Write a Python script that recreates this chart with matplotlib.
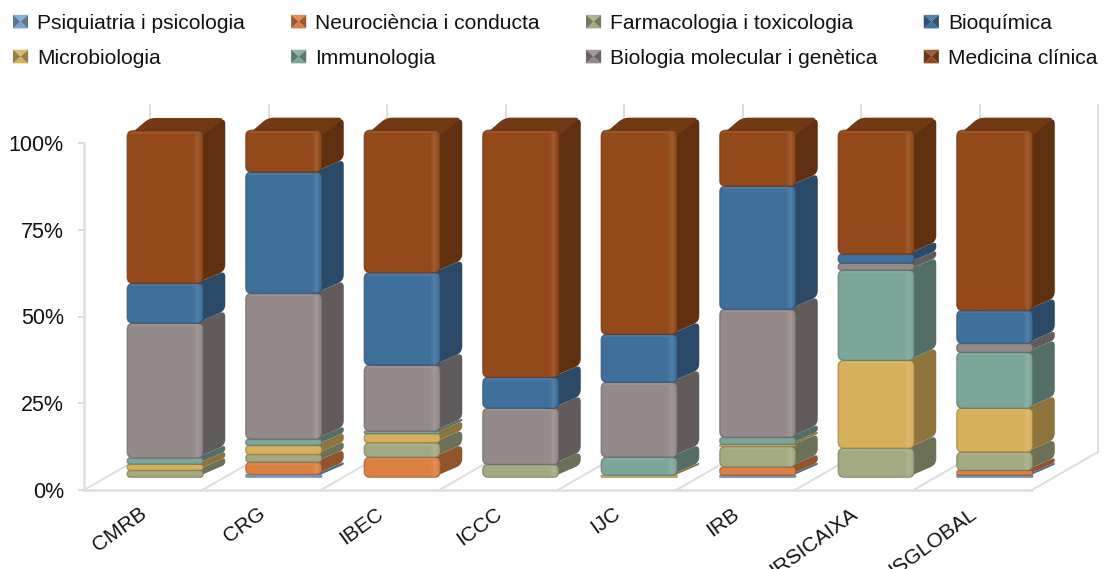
import numpy as np
import matplotlib
matplotlib.use("Agg")
import matplotlib.pyplot as plt
from matplotlib.path import Path
from matplotlib.patches import PathPatch, Patch, Polygon
from matplotlib.legend_handler import HandlerBase
from matplotlib.ticker import FuncFormatter

categories = ["CMRB", "CRG", "IBEC", "ICCC", "IJC", "IRB", "IRSICAIXA", "ISGLOBAL"]
psiquiatria = [0, 0.8, 0, 0, 0, 0.6, 0, 0.6]
neurociencia = [0, 3.6, 5.8, 0, 0, 2.4, 0, 1.4]
farmacologia = [2, 2.2, 4.2, 3.7, 0, 5.9, 8.4, 5.3]
microbiologia = [1.8, 2.6, 2.6, 0, 0.6, 0.6, 25.3, 12.6]
immunologia = [1.8, 1.8, 0.7, 0, 5.2, 2, 26, 16.1]
biologia = [38.8, 42, 19, 16.2, 21.6, 36.9, 2, 2.6]
bioquimica = [11.5, 35, 26.7, 8.9, 13.8, 35.5, 2.6, 9.5]
medicina = [44, 12, 41, 71.2, 58.8, 16.1, 35.7, 51.9]
series_values = {"Psiquiatria i psicologia": psiquiatria, "Neurociència i conducta": neurociencia,
                 "Farmacologia i toxicologia": farmacologia, "Microbiologia": microbiologia,
                 "Immunologia": immunologia, "Biologia molecular i genètica": biologia,
                 "Bioquímica": bioquimica, "Medicina clínica": medicina}
stack_order = ["Psiquiatria i psicologia", "Neurociència i conducta", "Farmacologia i toxicologia", "Microbiologia",
               "Immunologia", "Biologia molecular i genètica", "Bioquímica", "Medicina clínica"]
colors = {"Psiquiatria i psicologia": "#7ba4cc", "Neurociència i conducta": "#dc7f43",
          "Farmacologia i toxicologia": "#a3aa82", "Microbiologia": "#d7b05b",
          "Immunologia": "#7ca69a", "Biologia molecular i genètica": "#958a8a",
          "Bioquímica": "#3f709c", "Medicina clínica": "#934919"}

W, H = 1107, 569
plt.rcParams["font.family"] = ["Liberation Sans", "DejaVu Sans"]
fig = plt.figure(figsize=(W / 100, H / 100), dpi=100)
L, R, T, B = 84, 1032, 143, 490
ax = fig.add_axes([L / W, 1 - B / H, (R - L) / W, (B - T) / H])
ax.set_xlim(-0.5, 7.5)
ax.set_ylim(0, 100)
ax.patch.set_visible(False)
for s in ax.spines.values():
    s.set_visible(False)

GRID = "#dddddd"
px_x = (R - L) / 8
px_y = (B - T) / 100
DX, DY = 66 / px_x, 38 / px_y           # full floor depth
FRONT, BACK = 1 / 3, 2 / 3               # bar depth range
BAR_W = 76 / px_x


def proj(x, y, d):
    return x + d * DX, y + d * DY


def rounded(points, r):
    """Closed path through data-space points with corners rounded by r pixels."""
    pts = ax.transData.transform(np.asarray(points, float))
    n = len(pts)
    verts, codes = [], []
    for i in range(n):
        p, a, b = pts[i], pts[i - 1], pts[(i + 1) % n]
        la, lb = np.linalg.norm(a - p), np.linalg.norm(b - p)
        ra = min(r, la / 2) if la > 0 else 0
        rb = min(r, lb / 2) if lb > 0 else 0
        p1 = p + (a - p) / la * ra if la > 0 else p
        p2 = p + (b - p) / lb * rb if lb > 0 else p
        verts += [p1, p, p2]
        codes += [Path.MOVETO if i == 0 else Path.LINETO, Path.CURVE3, Path.CURVE3]
    verts.append(verts[0])
    codes.append(Path.CLOSEPOLY)
    return Path(ax.transData.inverted().transform(np.array(verts)), codes)


def shade(c, f):
    rgb = np.array(matplotlib.colors.to_rgb(c))
    return tuple(rgb * f) if f <= 1 else tuple(rgb + (1 - rgb) * (f - 1))


class BevelHandler(HandlerBase):
    def create_artists(self, legend, orig, xd, yd, w, h, fontsize, trans):
        c = orig.get_facecolor()
        x0, y0, x1, y1 = -xd, -yd, -xd + w, -yd + h
        cx, cy = (x0 + x1) / 2, (y0 + y1) / 2
        faces = [([(x0, y1), (x1, y1), (cx, cy)], 1.12), ([(x0, y0), (x1, y0), (cx, cy)], 1.0),
                 ([(x0, y0), (x0, y1), (cx, cy)], 0.72), ([(x1, y0), (x1, y1), (cx, cy)], 0.72)]
        return [Polygon(p, closed=True, fc=shade(c[:3], f), ec="none", transform=trans) for p, f in faces]


# floor, walls and axis
for k in range(9):
    xk = -0.5 + k
    x2, y2 = proj(xk, 0, 1)
    ax.plot([xk, x2], [0, y2], color=GRID, lw=1.4, clip_on=False, zorder=1)
ax.plot([-0.5, 7.5], [0, 0], color=GRID, lw=1.8, clip_on=False, zorder=1)
ax.plot([-0.5, -0.5], [0, 100], color=GRID, lw=1.8, clip_on=False, zorder=1)
for k in range(9):
    xb, yb0 = proj(-0.5 + k, 0, 1)
    _, yb1 = proj(-0.5 + k, 100, 1)
    ax.plot([xb, xb], [yb0, yb1], color=GRID, lw=1.4, clip_on=False, zorder=1)

ax.set_yticks([0, 25, 50, 75, 100])
ax.yaxis.set_major_formatter(FuncFormatter(lambda v, _: f"{v:.0f}%"))
ax.tick_params(axis="y", length=4, width=1.4, color=GRID, labelsize=15.5, pad=10.4, labelcolor="#111111")
ax.set_xticks(range(8))
ax.set_xticklabels(categories, rotation=36, ha="right", rotation_mode="anchor", fontsize=15.0, color="#111111")
ax.tick_params(axis="x", length=0, pad=10)
offset_x = matplotlib.transforms.ScaledTranslation(-3 / 72, 0, fig.dpi_scale_trans)
for lab in ax.get_xticklabels():
    lab.set_transform(lab.get_transform() + offset_x)

# bars
fx = np.arange(8) + FRONT * DX
fy = FRONT * DY
bottoms = np.zeros(8)
z = 3
for name in stack_order:
    vals = np.array(series_values[name], float)
    c = colors[name]
    for i in range(8):
        if vals[i] <= 0:
            continue
        x0, x1 = fx[i] - BAR_W / 2, fx[i] + BAR_W / 2
        y0, y1 = bottoms[i] + fy, bottoms[i] + vals[i] + fy
        ddx, ddy = (BACK - FRONT) * DX, (BACK - FRONT) * DY
        hpx = vals[i] * px_y
        r = min(6, max(hpx * 0.45, 0.8))
        side = rounded([(x1 - 0.06, y0), (x1 + ddx, y0 + ddy), (x1 + ddx, y1 + ddy), (x1 - 0.06, y1)], r)
        ax.add_patch(PathPatch(side, fc=shade(c, 0.66), ec="none", zorder=z, clip_on=False))
        if abs(bottoms[i] + vals[i] - 100) < 0.5:
            top = rounded([(x0 + 0.01, y1 - 1.5), (x1, y1 - 1.5), (x1 + ddx, y1 + ddy), (x0 + ddx, y1 + ddy)], r)
            ax.add_patch(PathPatch(top, fc=shade(c, 0.78), ec="none", zorder=z, clip_on=False))
    bars = ax.bar(fx, vals, width=BAR_W, bottom=bottoms + fy, color=c, linewidth=0, zorder=z + 1)
    for i, rect in enumerate(bars):
        if vals[i] <= 0:
            continue
        x0, x1 = rect.get_x(), rect.get_x() + rect.get_width()
        y0, y1 = rect.get_y(), rect.get_y() + rect.get_height()
        hpx = vals[i] * px_y
        r = min(6, max(hpx * 0.45, 0.8))
        outline = rounded([(x0, y0), (x1, y0), (x1, y1), (x0, y1)], r)
        clip = PathPatch(outline, transform=ax.transData)
        rect.set_clip_box(None)
        rect.set_clip_path(clip)
        if hpx > 10:
            # soft bevel: right-hand highlight, top highlight
            for a, b, f in [(9, 7, 1.04), (7, 4, 1.09), (4, 2.5, 1.04)]:
                s = ax.fill_between([x1 - a / px_x, x1 - b / px_x], y0, y1, color=shade(c, f), lw=0, zorder=z + 2)
                s.set_clip_box(None)
                s.set_clip_path(clip)
            s = ax.fill_between([x0, x1], y1 - 3 / px_y, y1 - 0.8 / px_y, color=shade(c, 1.07), lw=0, zorder=z + 2)
            s.set_clip_box(None)
            s.set_clip_path(clip)
        ax.add_patch(PathPatch(outline, fc="none", ec=shade(c, 0.72), lw=1.0, alpha=0.7, zorder=z + 3, clip_on=False))
    bottoms = bottoms + vals
    z += 4

# legend
legend_order = ["Psiquiatria i psicologia", "Microbiologia", "Neurociència i conducta", "Immunologia",
                "Farmacologia i toxicologia", "Biologia molecular i genètica", "Bioquímica", "Medicina clínica"]
legend_handles = [Patch(fc=colors[n]) for n in legend_order]
leg = fig.legend(legend_handles, legend_order, ncol=4, loc="upper left", bbox_to_anchor=(13 / W, 1 - 14 / H),
                 bbox_transform=fig.transFigure, frameon=False, fontsize=15.1, handlelength=0.72, handleheight=0.62,
                 handletextpad=0.43, columnspacing=2.2, labelspacing=0.76, borderaxespad=0, borderpad=0,
                 handler_map={Patch: BevelHandler()})
for t in leg.get_texts():
    t.set_color("#111111")

fig.savefig("out.png", dpi=100)
